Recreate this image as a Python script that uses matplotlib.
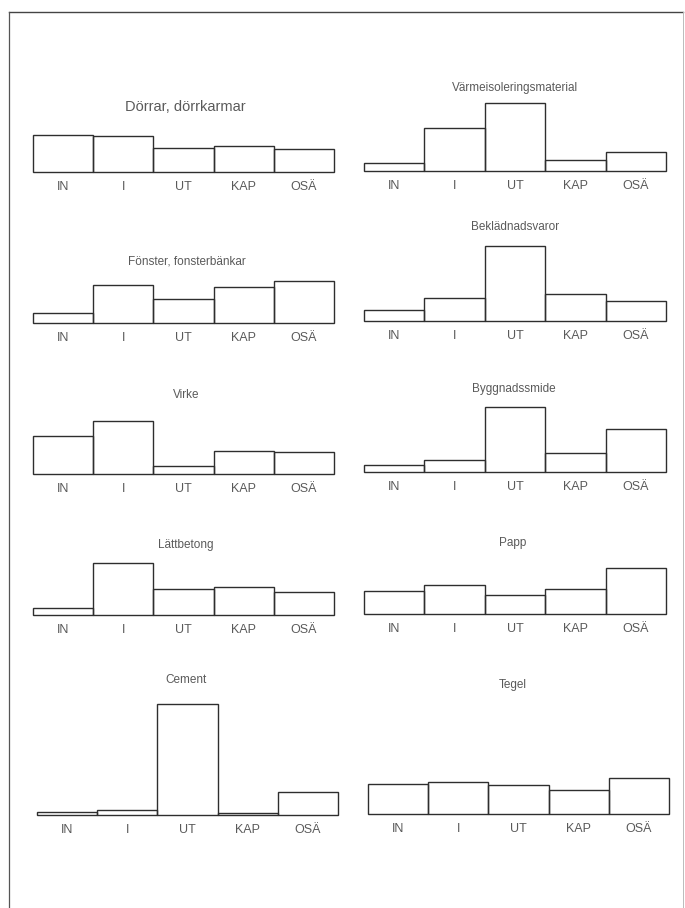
import matplotlib
matplotlib.use("Agg")
import matplotlib.pyplot as plt
from matplotlib.lines import Line2D

plt.rcParams['font.family'] = ['Liberation Sans', 'DejaVu Sans']

categories = ["IN", "I", "UT", "KAP", "OSÄ"]

titles = ["Dörrar, dörrkarmar", "Värmeisoleringsmaterial",
          "Fönster, fonsterbänkar", "Beklädnadsvaror",
          "Virke", "Byggnadssmide",
          "Lättbetong", "Papp",
          "Cement", "Tegel"]

dorrar = [37, 36, 24, 26, 23]
varme = [8, 43, 68, 11, 19]
fonster = [10, 38, 24, 36, 42]
bekladnad = [11, 23, 75, 27, 20]
virke = [38, 53, 8, 23, 22]
byggsmide = [7, 12, 65, 19, 43]
lattbetong = [7, 52, 26, 28, 23]
papp = [23, 29, 19, 25, 46]
cement = [3, 5, 111, 2, 23]
tegel = [30, 32, 29, 24, 36]

series = [dorrar, varme, fonster, bekladnad, virke, byggsmide,
          lattbetong, papp, cement, tegel]

W, H = 685, 908
fig = plt.figure(figsize=(W / 100, H / 100), dpi=100)
fig.patch.set_facecolor("white")

# layout in pixels: (x_left, x_right, baseline_y, title_x, title_y, title_size)
layout = [
    (33, 334, 172, 185, 107, 10.5),
    (364, 666, 171, 515, 88, 8.5),
    (33, 334, 323, 187, 262, 8.5),
    (364, 666, 321, 515, 227, 8.5),
    (33, 334, 474, 186, 395, 8.5),
    (364, 666, 472, 514, 389, 8.5),
    (33, 334, 615, 186, 545, 8.5),
    (364, 666, 614, 513, 543, 8.5),
    (37, 338, 815, 186, 680, 8.5),
    (368, 669, 814, 513, 685, 8.5),
]

line_col = "#2e2e2e"
text_col = "#5a5a5a"
TOP = 130
BOT = 25

for vals, title, (x0, x1, base, tx, ty, tsize) in zip(series, titles, layout):
    left = x0 / W
    width = (x1 - x0) / W
    bottom = (H - (base + BOT)) / H
    height = (TOP + BOT) / H
    ax = fig.add_axes([left, bottom, width, height])
    ax.set_xlim(-0.5, 4.5)
    ax.set_ylim(-BOT, TOP)
    ax.axis("off")
    bars = ax.bar(range(len(categories)), vals, width=1.0, bottom=0,
                  fill=False, edgecolor=line_col, linewidth=1.0)
    for b in bars:
        b.set_clip_on(False)
    for i, c in enumerate(categories):
        ax.text(i, -15, c, ha="center", va="center", fontsize=9,
                color=text_col, clip_on=False)
    # title
    xd = -0.5 + 5 * (tx - x0) / (x1 - x0)
    ax.text(xd, base - ty, title, ha="center", va="center",
            fontsize=tsize, color=text_col, clip_on=False)

# page frame (scan border)
def fx(x):
    return x / W

def fy(y):
    return 1 - y / H

fig.add_artist(Line2D([fx(9), fx(683)], [fy(12), fy(12)], color="#444444", lw=1.0))
fig.add_artist(Line2D([fx(9), fx(9)], [fy(12), fy(908)], color="#555555", lw=0.9))
fig.add_artist(Line2D([fx(683), fx(683)], [fy(12), fy(908)], color="#bbbbbb", lw=0.7))

fig.savefig("out.png", dpi=100, facecolor="white")
